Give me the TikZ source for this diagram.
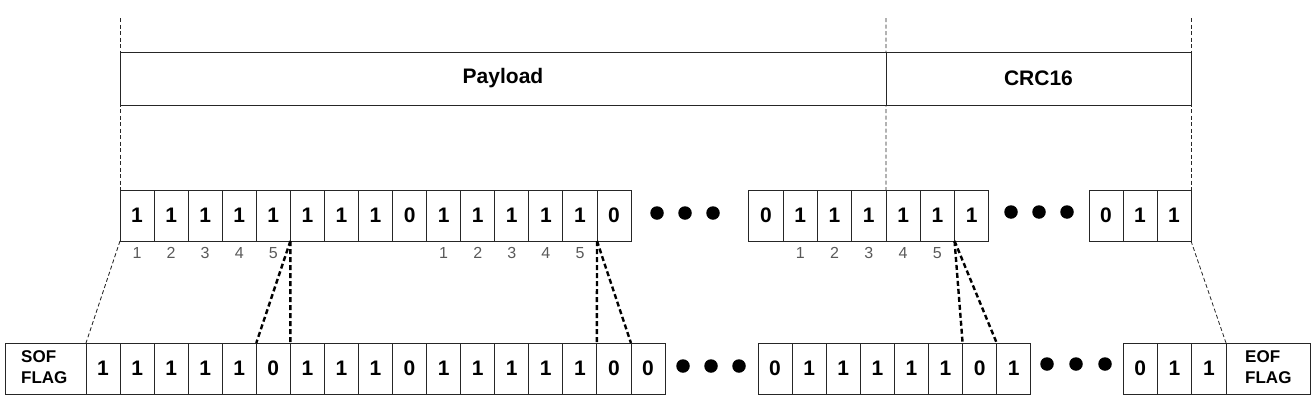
\documentclass[tikz,border=0pt]{standalone}
\usepackage{fontspec}
\setmainfont{Liberation Sans}
\usetikzlibrary{calc}
\begin{document}
\begin{tikzpicture}[x=1pt,y=-1pt,
  cell/.style={draw=black!85, line width=0.9pt, anchor=north west, inner sep=0pt, outer sep=0pt,
    minimum height=51pt, font=\bfseries\fontsize{21}{21}\selectfont},
  flagbox/.style={draw=black!85, line width=0.9pt, anchor=north west, inner sep=0pt, outer sep=0pt,
    minimum height=51pt},
  flagtxt/.style={anchor=west, inner sep=0pt, align=left, font=\bfseries\fontsize{17}{21}\selectfont},
  fieldbox/.style={draw=black!85, line width=0.9pt, anchor=north west, inner sep=0pt, outer sep=0pt,
    minimum height=53pt, font=\bfseries\fontsize{21}{21}\selectfont},
  idx/.style={inner sep=0pt, anchor=base, text=black!65, font=\fontsize{16}{16}\selectfont},
  dot/.style={circle, fill=black, inner sep=0pt, minimum size=13.5pt},
  guide/.style={line width=0.8pt, black!85, dash pattern=on 4pt off 2.5pt},
  stuff/.style={line width=2.4pt, dash pattern=on 5pt off 3pt, black}
]
\useasboundingbox (0,0) rectangle (1316,402);

% ---- top field boxes
\coordinate (g1) at (120,18);
\coordinate (g2) at (886,18);
\coordinate (g3) at (1191,18);

% ---- top row
\foreach \v [count=\i] in {1,1,1,1,1,1,1,1,0,1,1,1,1,1,0}
  \node[cell, minimum width=34.07pt] (ta\i) at ({120+(\i-1)*34.07},190) {\v};
\foreach \v [count=\i] in {0,1,1,1,1,1,1}
  \node[cell, minimum width=34.29pt] (tb\i) at ({748.8+(\i-1)*34.29},190) {\v};
\foreach \v [count=\i] in {0,1,1}
  \node[cell, minimum width=34pt] (tc\i) at ({1089+(\i-1)*34},190) {\v};

% guides
\draw[guide] (g1) -- (ta1.north west);
\draw[guide] (g2) -- (tb5.north west);
\draw[guide] (g3) -- (tc3.north east);

\node[fieldbox, fill=white, minimum width=766pt] (pay) at (120,52) {Payload};
\node[fieldbox, fill=white, minimum width=305pt] (crc) at (886,52) {CRC16};

% index labels
\foreach \c/\t in {ta1/1,ta2/2,ta3/3,ta4/4,ta5/5,ta10/1,ta11/2,ta12/3,ta13/4,ta14/5,tb2/1,tb3/2,tb4/3,tb5/4,tb6/5}
  \node[idx] (n-\c) at ($(\c.south)+(0,17.5)$) {\t};

% top dots
\node[dot] (d1) at (657,213) {};
\node[dot] (d2) at (685,213) {};
\node[dot] (d3) at (713,213) {};
\node[dot] (d4) at (1011,212) {};
\node[dot] (d5) at (1039,212) {};
\node[dot] (d6) at (1067,212) {};

% ---- bottom row
\node[flagbox, minimum width=81pt] (sof) at (5,343) {};
\node[flagtxt] (soft) at (21,367) {SOF\\FLAG};
\foreach \v [count=\i] in {1,1,1,1,1,0,1,1,1,0,1,1,1,1,1,0,0}
  \node[cell, minimum width=34.06pt] (ba\i) at ({86+(\i-1)*34.06},343) {\v};
\foreach \v [count=\i] in {0,1,1,1,1,1,0,1}
  \node[cell, minimum width=34.1pt] (bb\i) at ({758+(\i-1)*34.1},343) {\v};
\foreach \v [count=\i] in {0,1,1}
  \node[cell, minimum width=34.33pt] (bc\i) at ({1123+(\i-1)*34.33},343) {\v};
\node[flagbox, minimum width=84pt] (eof) at (1226,343) {};
\node[flagtxt] (eoft) at (1245,367) {EOF\\FLAG};

% bottom dots
\node[dot] (d7) at (683,366) {};
\node[dot] (d8) at (711,366) {};
\node[dot] (d9) at (739,366) {};
\node[dot] (d10) at (1047,364) {};
\node[dot] (d11) at (1076,364) {};
\node[dot] (d12) at (1105,364) {};

% ---- connectors
\draw[guide] (ta1.south west) -- (ba1.north west);
\draw[guide] (tc3.south east) -- (eof.north west);
\draw[stuff] (ta5.south east) -- (ba5.north east);
\draw[stuff] (ta5.south east) -- (ba6.north east);
\draw[stuff] (ta14.south east) -- (ba15.north east);
\draw[stuff] (ta14.south east) -- (ba16.north east);
\draw[stuff] (tb6.south east) -- (bb6.north east);
\draw[stuff] (tb6.south east) -- (bb7.north east);
\end{tikzpicture}
\end{document}
